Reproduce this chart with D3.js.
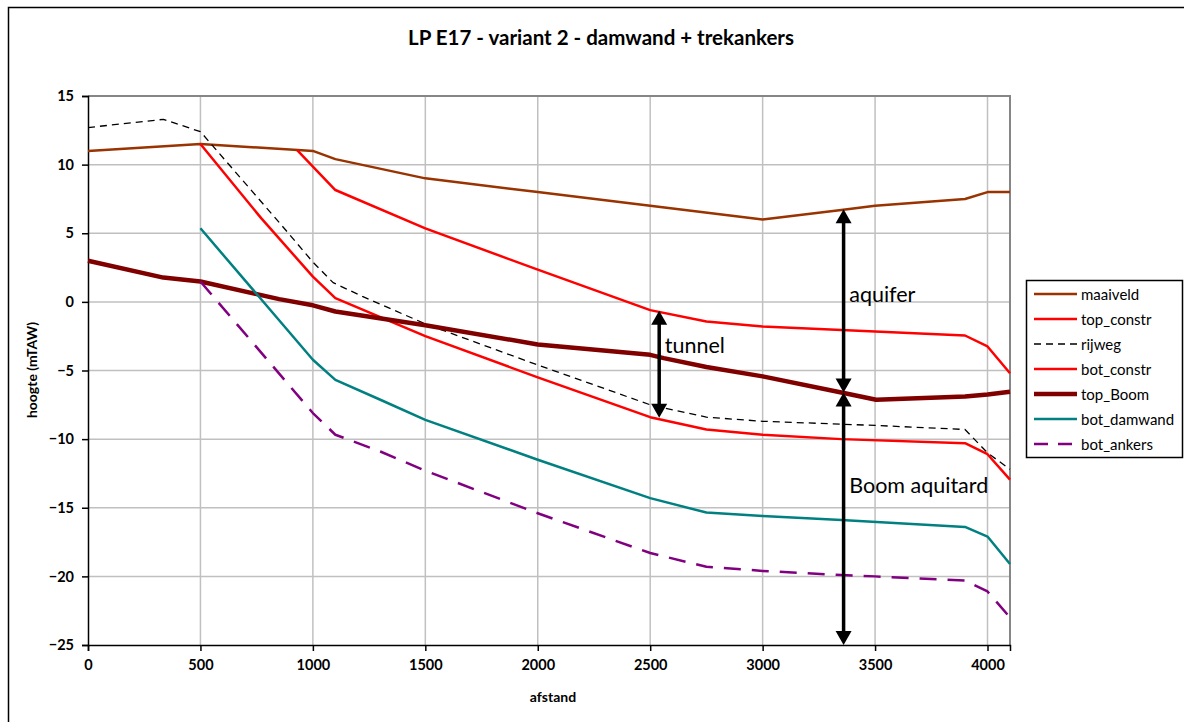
<!DOCTYPE html>
<html>
<head>
<meta charset="utf-8">
<script src="https://cdn.jsdelivr.net/npm/d3@7/dist/d3.min.js"></script>
<style>
  html, body { margin: 0; padding: 0; background: #fff; }
  svg { display: block; }
  text { font-family: Lato, "Open Sans", sans-serif; }
</style>
</head>
<body>
<svg id="chart" width="1184" height="722"></svg>
<script>
// ---- data ----
const title = "LP E17 - variant 2 - damwand + trekankers";
const xLabel = "afstand";
const yLabel = "hoogte (mTAW)";
const xTicks = [0, 500, 1000, 1500, 2000, 2500, 3000, 3500, 4000];
const yTicks = [15, 10, 5, 0, -5, -10, -15, -20, -25];

const maaiveld = [[0, 11], [500, 11.5], [950, 11.05], [1000, 11], [1100, 10.4], [1500, 9.0], [2000, 8.0], [2500, 7.0], [3000, 6.0], [3350, 6.7], [3500, 7.0], [3900, 7.5], [4000, 8.0], [4100, 8.0]];
const top_constr = [[930, 11.05], [1100, 8.15], [1500, 5.35], [2000, 2.35], [2500, -0.6], [2750, -1.43], [3000, -1.8], [3350, -2.05], [3900, -2.45], [4000, -3.25], [4100, -5.2]];
const rijweg = [[0, 12.7], [335, 13.3], [500, 12.4], [860, 5.6], [1000, 2.9], [1090, 1.4], [1220, 0.4], [1500, -1.6], [2000, -4.6], [2500, -7.5], [2750, -8.4], [3000, -8.7], [3500, -9.0], [3900, -9.3], [4000, -11.0], [4100, -12.2]];
const bot_constr = [[500, 11.5], [770, 6.1], [1000, 1.84], [1100, 0.27], [1500, -2.5], [2000, -5.5], [2500, -8.4], [2750, -9.3], [3000, -9.68], [3350, -10.0], [3900, -10.3], [4000, -11.1], [4100, -12.95]];
const top_Boom = [[0, 3.0], [335, 1.77], [500, 1.48], [850, 0.2], [1000, -0.25], [1100, -0.7], [1500, -1.7], [2000, -3.1], [2500, -3.86], [2560, -4.1], [2750, -4.75], [3000, -5.43], [3350, -6.6], [3505, -7.13], [3900, -6.9], [4000, -6.75], [4100, -6.55]];
const bot_damwand = [[500, 5.36], [1000, -4.22], [1100, -5.68], [1300, -7.13], [1500, -8.6], [2000, -11.5], [2500, -14.3], [2750, -15.35], [3000, -15.6], [3350, -15.9], [3900, -16.4], [4000, -17.1], [4100, -19.1]];
const bot_ankers = [[500, 1.48], [1000, -8.1], [1100, -9.68], [1300, -10.9], [1500, -12.3], [2000, -15.4], [2500, -18.3], [2750, -19.3], [3000, -19.6], [3350, -19.9], [3500, -20.0], [3900, -20.3], [4000, -21.1], [4100, -23.0]];

const seriesNames = ["maaiveld", "top_constr", "rijweg", "bot_constr", "top_Boom", "bot_damwand", "bot_ankers"];
const seriesData = [maaiveld, top_constr, rijweg, bot_constr, top_Boom, bot_damwand, bot_ankers];
const seriesColors = ["#993300", "#ff0000", "#000000", "#ff0000", "#800000", "#008080", "#800080"];
const seriesWidths = [2.5, 2.5, 1.3, 2.5, 4.5, 2.5, 2.5];
const seriesDash = [null, null, "7,5", null, null, null, "17,11"];

// annotation arrows: x, from y, to y
const arrowNames = ["tunnel", "aquifer", "Boom aquitard"];
const arrowX = [2540, 3360, 3360];
const arrowY1 = [-0.65, 6.75, -6.6];
const arrowY2 = [-8.45, -6.6, -25];
const labelX = [2565, 3385, 3385];
const labelY = [-3.7, 0.0, -13.9];

// ---- layout ----
const svg = d3.select("#chart");
const W = 1184, H = 722;
const plot = { left: 88, right: 1010, top: 96, bottom: 645 };

const x = d3.scaleLinear().domain([0, 4100]).range([plot.left, plot.right]);
const y = d3.scaleLinear().domain([-25, 15]).range([plot.bottom, plot.top]);

// outer border
svg.append("rect").attr("x", 8.5).attr("y", 7.5).attr("width", W).attr("height", H)
  .attr("fill", "none").attr("stroke", "#000").attr("stroke-width", 1.5);

// title
svg.append("text").attr("x", 601).attr("y", 45).attr("text-anchor", "middle")
  .attr("font-size", 20.5).attr("font-weight", "bold").attr("fill", "#000").text(title);

// gridlines
svg.append("g").selectAll("line.v").data(xTicks.filter(d => d > 0)).join("line")
  .attr("x1", d => x(d)).attr("x2", d => x(d)).attr("y1", plot.top).attr("y2", plot.bottom)
  .attr("stroke", "#c0c0c0").attr("stroke-width", 1.5);
svg.append("g").selectAll("line.h").data(yTicks.filter(d => d > -25 && d < 15)).join("line")
  .attr("x1", plot.left).attr("x2", plot.right).attr("y1", d => y(d)).attr("y2", d => y(d))
  .attr("stroke", "#c0c0c0").attr("stroke-width", 1.5);

// plot frame top/right (gray)
svg.append("path").attr("d", `M${plot.left},${plot.top}H${plot.right}V${plot.bottom}`)
  .attr("fill", "none").attr("stroke", "#868686").attr("stroke-width", 2);

// axes
const xAxis = d3.axisBottom(x).tickValues(xTicks).tickSize(6).tickPadding(9).tickFormat(d3.format("d"));
const yAxis = d3.axisLeft(y).tickValues(yTicks).tickSize(6).tickPadding(8).tickFormat(d3.format("d"));
const gx = svg.append("g").attr("transform", `translate(0,${plot.bottom})`).call(xAxis);
const gy = svg.append("g").attr("transform", `translate(${plot.left},0)`).call(yAxis);
[gx, gy].forEach(g => {
  g.select(".domain").attr("stroke", "#000").attr("stroke-width", 1.5);
  g.selectAll(".tick line").attr("stroke", "#000").attr("stroke-width", 1.5);
  g.selectAll(".tick text").attr("font-family", "Lato, sans-serif").attr("font-size", 14.5)
    .attr("font-weight", "bold").attr("fill", "#000");
});

// axis titles
svg.append("text").attr("x", 553).attr("y", 702).attr("text-anchor", "middle")
  .attr("font-size", 14).attr("font-weight", "bold").text(xLabel);
svg.append("text").attr("transform", "translate(37,370) rotate(-90)").attr("text-anchor", "middle")
  .attr("font-size", 14).attr("font-weight", "bold").text(yLabel);

// series lines
const line = d3.line().x(d => x(d[0])).y(d => y(d[1]));
const gl = svg.append("g");
seriesData.forEach((data, i) => {
  gl.append("path").datum(data).attr("d", line)
    .attr("fill", "none").attr("stroke", seriesColors[i]).attr("stroke-width", seriesWidths[i])
    .attr("stroke-linejoin", "round")
    .attr("stroke-dasharray", seriesDash[i]);
});

// arrows
const ga = svg.append("g");
const headL = 14, headW = 8;
arrowNames.forEach((name, i) => {
  const ax = x(arrowX[i]), ya = y(arrowY1[i]), yb = y(arrowY2[i]);
  ga.append("line").attr("x1", ax).attr("x2", ax).attr("y1", ya + headL - 1).attr("y2", yb - headL + 1)
    .attr("stroke", "#000").attr("stroke-width", 3.5);
  ga.append("path").attr("d", `M${ax},${ya}L${ax - headW},${ya + headL}L${ax + headW},${ya + headL}Z`).attr("fill", "#000");
  ga.append("path").attr("d", `M${ax},${yb}L${ax - headW},${yb - headL}L${ax + headW},${yb - headL}Z`).attr("fill", "#000");
  ga.append("text").attr("x", x(labelX[i])).attr("y", y(labelY[i])).attr("font-size", 21.5)
    .attr("fill", "#000").text(name);
});

// legend
const lg = svg.append("g");
lg.append("rect").attr("x", 1026.5).attr("y", 280.5).attr("width", 156).attr("height", 177)
  .attr("fill", "#fff").attr("stroke", "#000").attr("stroke-width", 1.5);
seriesNames.forEach((name, i) => {
  const ly = 294 + i * 25;
  lg.append("line").attr("x1", 1034).attr("x2", 1077).attr("y1", ly).attr("y2", ly)
    .attr("stroke", seriesColors[i]).attr("stroke-width", seriesWidths[i])
    .attr("stroke-dasharray", i === 2 ? "7,5" : (i === 6 ? "14,10" : null));
  lg.append("text").attr("x", 1081).attr("y", ly + 5.5).attr("font-size", 15).attr("fill", "#000").text(name);
});
</script>
</body>
</html>
